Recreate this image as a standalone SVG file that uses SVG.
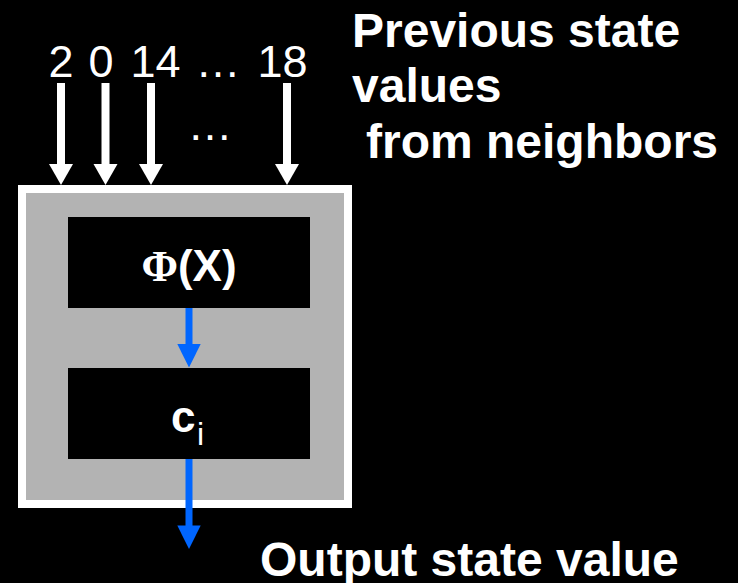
<svg xmlns="http://www.w3.org/2000/svg" width="738" height="583" viewBox="0 0 738 583">
<style>
.num{font-family:"Liberation Sans",Arial,sans-serif;font-size:45px;fill:#fff;text-anchor:middle}
.lbl{font-family:"Liberation Sans",Arial,sans-serif;font-size:48px;font-weight:bold;fill:#fff}
.wa{stroke:#fff;stroke-width:8;fill:none}
.ba{stroke:#0066ff;stroke-width:7;fill:none}
.wh{fill:#fff}
.bh{fill:#0066ff}
</style>
<rect width="738" height="583" fill="#000"/>
<g id="cell">
<rect x="22" y="189" width="326" height="315" fill="#b3b3b3" stroke="#fff" stroke-width="8"/>
</g>
<g id="phi">
<rect x="68" y="217" width="242" height="91" fill="#000"/>
<text x="189" y="281" text-anchor="middle" fill="#fff" font-size="44" font-weight="bold"><tspan font-family="Liberation Serif,serif">Φ</tspan><tspan font-family="Liberation Sans,Arial,sans-serif">(X)</tspan></text>
</g>
<g id="ci">
<rect x="68" y="368" width="242" height="91" fill="#000"/>
<text x="171" y="432" fill="#fff" font-family="Liberation Sans,Arial,sans-serif" font-size="44" font-weight="bold">c</text>
<text x="197" y="445" fill="#fff" font-family="Liberation Sans,Arial,sans-serif" font-size="32">i</text>
</g>
<g id="inputs">
<text class="num" x="61" y="77">2</text>
<text class="num" x="101" y="77">0</text>
<text class="num" x="155.5" y="77">14</text>
<text class="num" x="218" y="77">…</text>
<text class="num" x="282.5" y="77">18</text>
<text class="num" x="210" y="140">…</text>
</g>
<g id="labels">
<text class="lbl" x="352" y="47">Previous state</text>
<text class="lbl" x="352" y="102">values</text>
<text class="lbl" x="366" y="158">from neighbors</text>
<text class="lbl" x="260" y="576">Output state value</text>
</g>
<g id="connectors">
<path class="wa" d="M61,83 V166"/>
<path class="wh" d="M49,164 L73,164 L61,185 Z"/>
<path class="wa" d="M105.5,83 V166"/>
<path class="wh" d="M93.5,164 L117.5,164 L105.5,185 Z"/>
<path class="wa" d="M151,83 V166"/>
<path class="wh" d="M139,164 L163,164 L151,185 Z"/>
<path class="wa" d="M287,83 V166"/>
<path class="wh" d="M275,164 L299,164 L287,185 Z"/>
<path class="ba" d="M189,308 V346"/>
<path class="bh" d="M177.3,344 L200.7,344 L189,367.5 Z"/>
<path class="ba" d="M189,459 V527"/>
<path class="bh" d="M177.3,525.5 L200.7,525.5 L189,549 Z"/>
</g>
</svg>
